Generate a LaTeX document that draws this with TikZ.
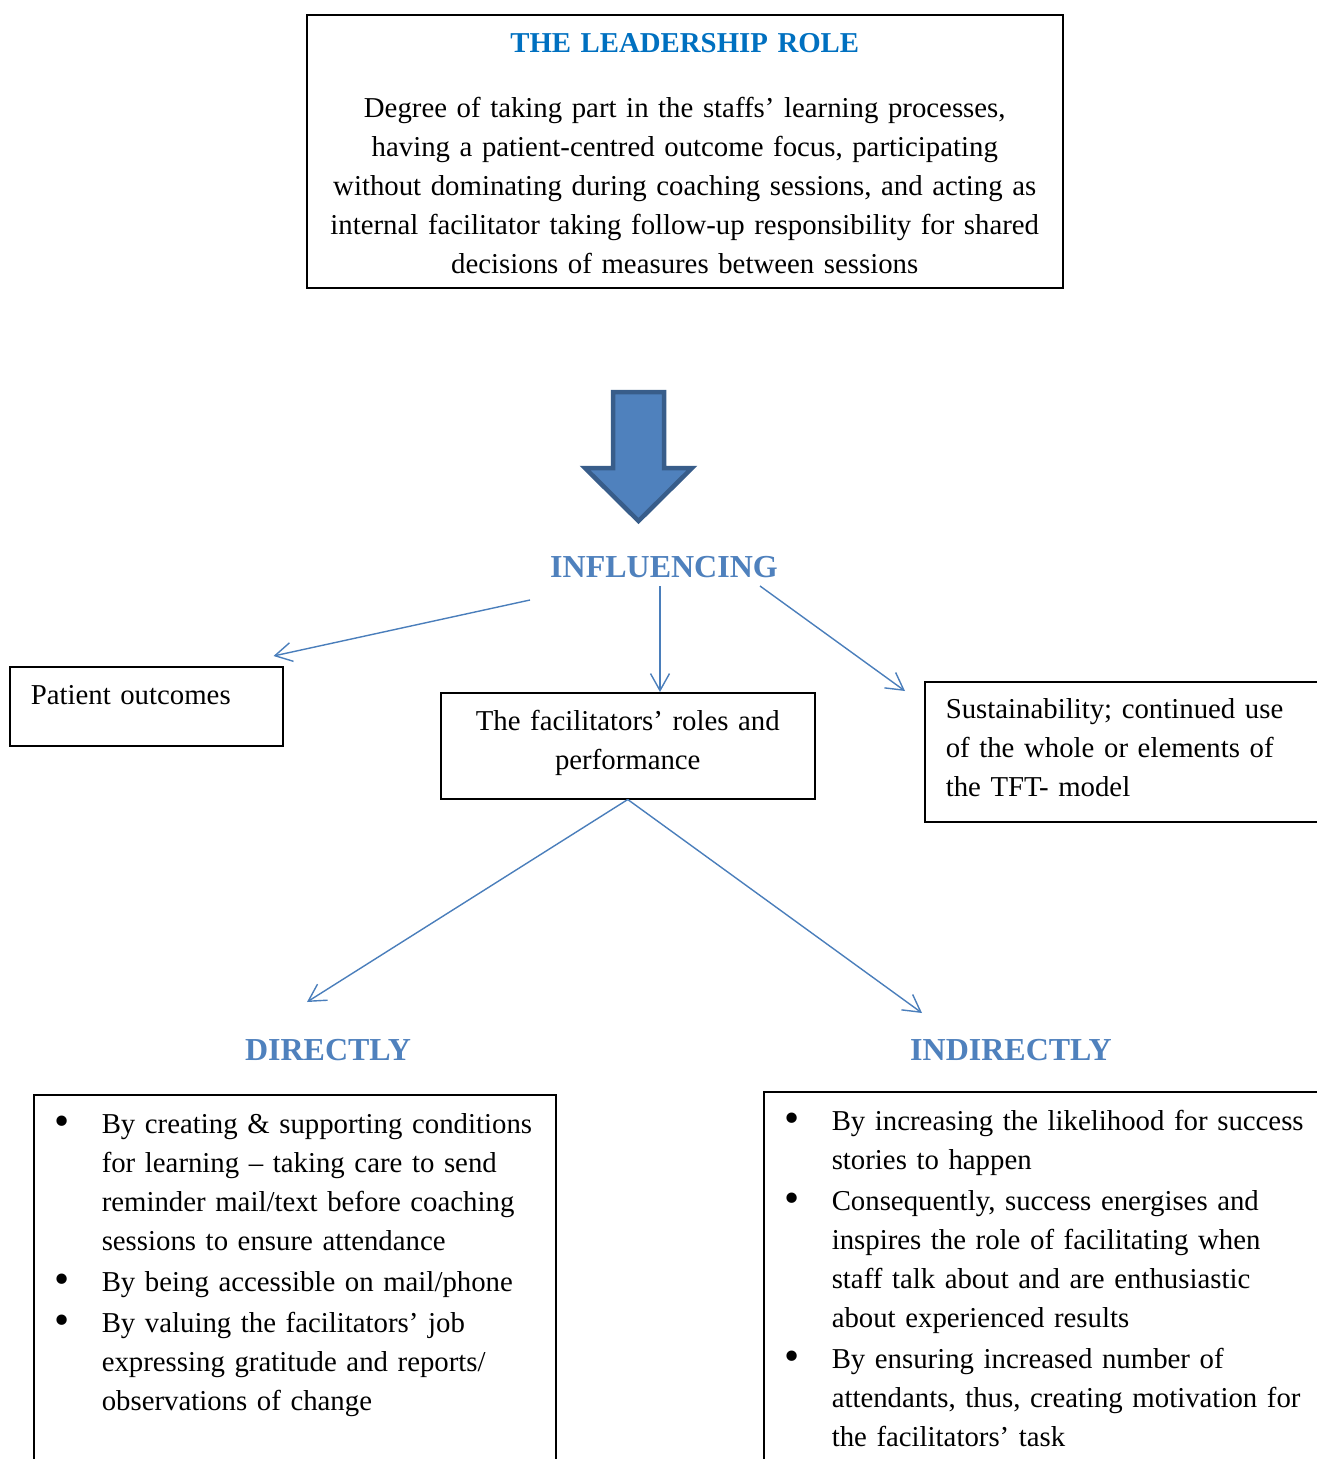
\documentclass[tikz,border=0pt]{standalone}
\usepackage{fontspec}
\setmainfont{Liberation Serif}
\usepackage{graphicx}
\usetikzlibrary{arrows.meta}

\definecolor{titleblue}{HTML}{0070C0}
\definecolor{headblue}{HTML}{4F81BD}
\definecolor{linkblue}{HTML}{4A7EBB}
\definecolor{arrowfill}{HTML}{4F81BD}
\definecolor{arrowedge}{HTML}{385D8A}

\newcommand\bodyfont{\fontsize{28.8pt}{39pt}\selectfont}
\newcommand\bulletitem{\hangindent=68pt\hangafter=1\noindent
  \makebox[68pt][l]{\hspace*{21pt}\raisebox{-2pt}{\scalebox{1.5}{\textbullet}}}}

\begin{document}
\begin{tikzpicture}[x=1pt,y=-1pt,font=\bodyfont,
  box/.style={draw, line width=1.5pt, inner ysep=0pt, anchor=north west},
  link/.style={draw=linkblue, line width=1.4pt, -{Straight Barb[length=17pt,width=19pt]}},
  heading/.style={font=\fontsize{32pt}{39pt}\selectfont\bfseries, text=headblue, anchor=base, inner sep=0pt}]
  \useasboundingbox (0,0) rectangle (1317,1459);
  \clip (0,0) rectangle (1317,1459);
  % leadership box
  \node[box, inner xsep=18pt, text width=720pt, text height=38pt, text depth=235pt, align=center] (lead) at (306,14)
    {{\bfseries\color{titleblue}THE LEADERSHIP ROLE}\\[26pt]
     Degree of taking part in the staffs’ learning processes,\\
     having a patient-centred outcome focus, participating\\
     without dominating during coaching sessions, and acting as\\
     internal facilitator taking follow-up responsibility for shared\\
     decisions of measures between sessions};
  % big arrow
  \draw[line width=4.5pt, draw=arrowedge, fill=arrowfill, line join=miter]
    (613,392) -- (664,392) -- (664,468) -- (692,468) -- (638.5,521) -- (585,468) -- (613,468) -- cycle;
  \node[heading] (influ) at (664,577) {INFLUENCING};
  % three outcomes
  \node[box, inner xsep=21pt, text width=231pt, text height=38pt, text depth=41pt, align=left] (pat) at (9,666)
    {Patient outcomes};
  \node[box, inner xsep=18pt, text width=338pt, text height=38pt, text depth=68pt, align=center] (fac) at (440,692)
    {The facilitators’ roles and\\ performance};
  \node[box, inner xsep=21pt, text width=370pt, text height=37pt, text depth=103pt, align=left] (sus) at (924,681)
    {Sustainability; continued use\\ of the whole or elements of\\ the TFT- model};
  \coordinate (infl-w) at (530,600);
  \coordinate (infl-s) at (660,586);
  \coordinate (infl-e) at (760,586);
  \draw[link] (infl-w) -- ([shift={(-10,-10)}]pat.north east);
  \draw[link] (infl-s) -- (infl-s |- fac.north);
  \draw[link] (infl-e) -- ([shift={(-19,10)}]sus.north west);
  % directly / indirectly
  \coordinate (dir-end) at (307,1002);
  \coordinate (ind-end) at (922,1013);
  \draw[link] (fac.south) -- (dir-end);
  \draw[link] (fac.south) -- (ind-end);
  \node[heading] (dir) at (328,1060) {DIRECTLY};
  \node[heading] (ind) at (1011,1060) {INDIRECTLY};
  \node[box, inner xsep=0pt, text width=522pt, text height=39pt, text depth=360pt, align=left] (dirbox) at (33,1094)
    {\setlength\parskip{2pt}%
     \bulletitem By creating \& supporting conditions\newline
       for learning – taking care to send\newline
       reminder mail/text before coaching\newline
       sessions to ensure attendance\par
     \bulletitem By being accessible on mail/phone\par
     \bulletitem By valuing the facilitators’ job\newline
       expressing gratitude and reports/\newline
       observations of change\par};
  \node[box, inner xsep=0pt, text width=570pt, text height=39pt, text depth=380pt, align=left] (indbox) at (763,1091)
    {\setlength\parskip{2pt}%
     \bulletitem By increasing the likelihood for success\newline
       stories to happen\par
     \bulletitem Consequently, success energises and\newline
       inspires the role of facilitating when\newline
       staff talk about and are enthusiastic\newline
       about experienced results\par
     \bulletitem By ensuring increased number of\newline
       attendants, thus, creating motivation for\newline
       the facilitators’ task\par};
\end{tikzpicture}
\end{document}
